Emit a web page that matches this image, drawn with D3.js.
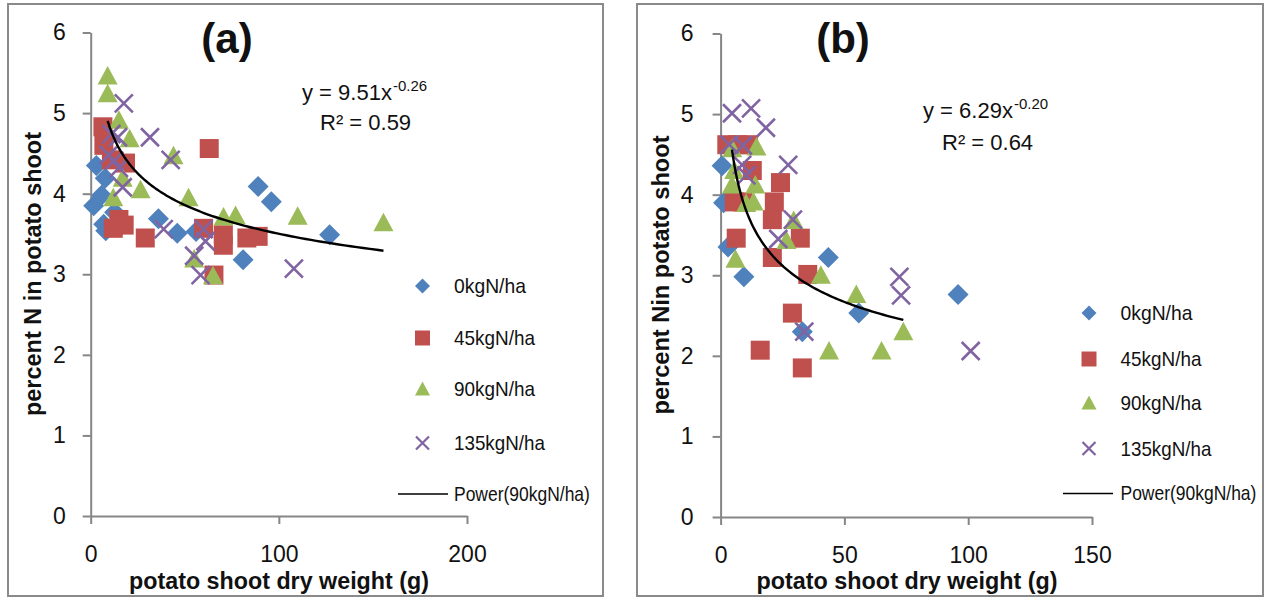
<!DOCTYPE html>
<html><head><meta charset="utf-8">
<script src="https://cdn.jsdelivr.net/npm/d3@7/dist/d3.min.js"></script>
<style>
body{margin:0;background:#fff}
svg{display:block}
text{font-family:"Liberation Sans",Arial,sans-serif;fill:#111}
</style>
</head><body>
<svg id="c" width="1269" height="599"></svg>
<script>
// ---------- data ----------
const seriesNames = ["0kgN/ha", "45kgN/ha", "90kgN/ha", "135kgN/ha"];
const trendName = "Power(90kgN/ha)";
const yTicks = [0, 1, 2, 3, 4, 5, 6];
const xTicksA = [0, 100, 200];
const xTicksB = [0, 50, 100, 150];
const titleA = "(a)", titleB = "(b)";
const eqA = ["y = 9.51x", "-0.26", "R\u00B2 = 0.59"];
const eqB = ["y = 6.29x", "-0.20", "R\u00B2 = 0.64"];
const yTitleA = "percent N in potato shoot";
const yTitleB = "percent Nin potato shoot";
const xTitle = "potato shoot dry weight (g)";

// panel (a): [shoot dry weight g, percent N]
const blueA = [[3,4.35],[7.7,4.19],[5.8,3.98],[1.6,3.85],[6.9,3.62],[8,3.54],[12.7,3.77],[36,3.69],[46,3.51],[56,3.53],[81,3.18],[89,4.09],[96,3.90],[127,3.49]];
const redA = [[6.5,4.83],[7,4.6],[11,4.42],[18.5,4.38],[15,3.68],[12,3.57],[17.8,3.61],[29,3.45],[63,4.56],[60,3.57],[70.5,3.49],[70.5,3.36],[65.5,2.99],[83,3.45],[89,3.47]];
const greenA = [[9,5.46],[9,5.24],[15,4.91],[20.7,4.68],[44,4.47],[17,4.19],[12,3.95],[26.5,4.05],[52,3.95],[70.6,3.71],[77,3.73],[55,3.19],[65,2.98],[110,3.72],[155.6,3.64]];
const purpleA = [[17.6,5.12],[11,4.74],[14.5,4.70],[31.5,4.7],[42.5,4.42],[9.6,4.48],[12.5,4.41],[15,4.32],[17,4.08],[38.8,3.56],[60,3.56],[61,3.41],[55,3.23],[58.4,2.99],[108,3.07]];

// panel (b)
const blueB = [[0.6,4.36],[1.2,3.9],[3,3.35],[9.4,2.98],[43.5,3.22],[55.8,2.53],[33,2.30],[95.9,2.76]];
const redB = [[2.5,4.62],[7,4.62],[11.2,4.62],[12.8,4.3],[24.2,4.15],[21.7,3.91],[20.9,3.69],[5.5,3.91],[9,3.91],[6.3,3.46],[32.2,3.46],[20.9,3.22],[35.2,3.01],[29,2.53],[16,2.07],[33,1.85]];
const greenB = [[4.7,4.57],[14.5,4.59],[5.5,4.3],[4.6,4.12],[14,4.12],[13.3,3.91],[10.3,3.89],[6,3.2],[29.5,3.68],[26.6,3.43],[40.5,3.0],[54.8,2.76],[43.8,2.06],[65,2.06],[73.8,2.30]];
const purpleB = [[4.6,5.01],[12.3,5.07],[18.3,4.83],[3.5,4.62],[9,4.61],[8.7,4.37],[10.4,4.24],[27.3,4.37],[29.2,3.69],[23.3,3.45],[33.8,2.30],[72.2,2.98],[72.9,2.75],[101,2.06]];

// ---------- styles ----------
const colors = ["#4F81BD", "#C0504D", "#9BBB59", "#8064A2"];
const shapeKinds = ["diamond", "square", "triangle", "cross"];
const shapes = {
  diamond: s => `M0,${-s}L${s},0L0,${s}L${-s},0Z`,
  square: s => `M${-s},${-s}H${s}V${s}H${-s}Z`,
  triangle: s => `M0,${-s}L${s},${s*0.85}L${-s},${s*0.85}Z`,
  cross: s => `M${-s},${-s}L${s},${s}M${s},${-s}L${-s},${s}`
};
const plotSize = {diamond:10.5, square:9.5, triangle:10, cross:9};
const legSize = {diamond:7.5, square:7.5, triangle:7.5, cross:6.5};

function powerFit(data){
  const lx = data.map(d => Math.log(d[0])), ly = data.map(d => Math.log(d[1]));
  const mx = d3.mean(lx), my = d3.mean(ly);
  const b = d3.sum(lx, (v,i) => (v-mx)*(ly[i]-my)) / d3.sum(lx, v => (v-mx)*(v-mx));
  return {a: Math.exp(my - b*mx), b};
}

const svg = d3.select("#c");
svg.append("rect").attr("width",1269).attr("height",599).attr("fill","#fff");

function drawMarker(g, kind, color, s, x, y, sw){
  const p = g.append("path").attr("d", shapes[kind](s)).attr("transform",`translate(${x},${y})`);
  if (kind === "cross") p.attr("fill","none").attr("stroke",color).attr("stroke-width",sw);
  else p.attr("fill",color);
}

// text squeezed horizontally to a target width via a real transform
function fitText(g, str, x, y, size, target, weight){
  const t = g.append("text").attr("x",0).attr("y",0).attr("dominant-baseline","central")
    .attr("font-size",size).attr("font-weight",weight||"normal").text(str);
  const w = t.node().getComputedTextLength();
  t.attr("transform",`translate(${x},${y}) scale(${Math.min(1.1, target/w)},1)`);
  return t;
}

function drawPanel(P){
  const g = svg.append("g");
  g.append("rect").attr("x",P.frame[0]).attr("y",P.frame[1]).attr("width",P.frame[2]).attr("height",P.frame[3])
    .attr("fill","none").attr("stroke","#8a8a8a").attr("stroke-width",2);

  const x = d3.scaleLinear().domain([P.xTicks[0], P.xTicks[P.xTicks.length-1]]).range(P.xRange);
  const y = d3.scaleLinear().domain([0, 6]).range(P.yRange);

  const ax = g.append("g").attr("transform",`translate(0,${y(0)})`)
    .call(d3.axisBottom(x).tickValues(P.xTicks).tickSize(8).tickSizeOuter(0).tickPadding(22).tickFormat(d3.format("d")));
  const ay = g.append("g").attr("transform",`translate(${x(0)},0)`)
    .call(d3.axisLeft(y).tickValues(yTicks).tickSize(8).tickSizeOuter(0).tickPadding(P.yPad).tickFormat(d3.format("d")));
  [ax, ay].forEach(a => {
    a.select(".domain").attr("stroke","#868686").attr("stroke-width",2);
    a.selectAll(".tick line").attr("stroke","#868686").attr("stroke-width",2);
    a.selectAll(".tick text").attr("font-size",23).attr("fill","#111")
      .style("font-family",'"Liberation Sans",Arial,sans-serif');
  });

  // points
  P.series.forEach((data, i) => {
    const sg = g.append("g");
    data.forEach(d => drawMarker(sg, shapeKinds[i], colors[i], plotSize[shapeKinds[i]], x(d[0]), y(d[1]), 2.6));
  });

  // power trendline fitted to 90kgN/ha series
  const fit = powerFit(P.series[2]);
  const xs = P.series[2].map(d => d[0]);
  const x0 = d3.min(xs), x1 = d3.max(xs);
  const pts = d3.range(0, 121).map(k => {
    const xv = x0 * Math.pow(x1/x0, k/120);
    return [x(xv), y(fit.a * Math.pow(xv, fit.b))];
  });
  g.append("path").attr("d", d3.line()(pts)).attr("fill","none").attr("stroke","#000").attr("stroke-width",2.4);

  // title
  g.append("text").attr("x",P.title[1]).attr("y",P.title[2]).attr("text-anchor","middle")
    .attr("font-size",42).attr("font-weight","bold").text(P.title[0]);

  // equation
  const t1 = g.append("text").attr("x",P.eqPos[0]).attr("y",P.eqPos[1]).attr("font-size",22).text(P.eq[0]);
  const w1 = t1.node().getComputedTextLength();
  g.append("text").attr("x",P.eqPos[0]+w1+1).attr("y",P.eqPos[1]-9).attr("font-size",15).text(P.eq[1]);
  g.append("text").attr("x",P.eqPos[2]).attr("y",P.eqPos[3]).attr("font-size",22).text(P.eq[2]);

  // axis titles
  g.append("text").attr("transform",`translate(${P.yTitle[1]},${P.yTitle[2]}) rotate(-90)`)
    .attr("text-anchor","middle").attr("dominant-baseline","central")
    .attr("font-size",24).attr("font-weight","bold")
    .attr("textLength",P.yTitle[3]).attr("lengthAdjust","spacingAndGlyphs").text(P.yTitle[0]);
  g.append("text").attr("x",P.xTitle[1]).attr("y",P.xTitle[2])
    .attr("text-anchor","middle").attr("dominant-baseline","central")
    .attr("font-size",23).attr("font-weight","bold")
    .attr("textLength",P.xTitle[3]).attr("lengthAdjust","spacingAndGlyphs").text(P.xTitle[0]);

  // legend
  const L = P.legend;
  const lens = [72, 81, 81, 91, 136];
  seriesNames.forEach((name, i) => {
    drawMarker(g, shapeKinds[i], colors[i], legSize[shapeKinds[i]], L.mx, L.rows[i], 2.2);
    fitText(g, name, L.tx, L.rows[i], 20, lens[i]);
  });
  g.append("line").attr("x1",L.line[0]).attr("x2",L.line[1]).attr("y1",L.rows[4]).attr("y2",L.rows[4])
    .attr("stroke","#000").attr("stroke-width",1.6);
  fitText(g, trendName, L.tx, L.rows[4], 20, lens[4]);
}

drawPanel({
  frame:[8,4,595,592], xTicks:xTicksA, xRange:[90.7,467], yRange:[516,32.5], yPad:17,
  series:[blueA, redA, greenA, purpleA],
  title:[titleA, 227, 53], eq:eqA, eqPos:[302,100,320,130],
  yTitle:[yTitleA, 32, 274, 284], xTitle:[xTitle, 279, 581, 300],
  legend:{mx:422.5, tx:454, rows:[286,338,389,443,494], line:[398,448]}
});
drawPanel({
  frame:[637,4,626,592], xTicks:xTicksB, xRange:[720.6,1092], yRange:[517,33.5], yPad:19,
  series:[blueB, redB, greenB, purpleB],
  title:[titleB, 843, 53], eq:eqB, eqPos:[923,118,942,150],
  yTitle:[yTitleB, 660, 275, 279], xTitle:[xTitle, 907, 581, 301],
  legend:{mx:1089, tx:1120.5, rows:[313,359,403,448.5,493.5], line:[1063,1113]}
});
</script>
</body></html>
